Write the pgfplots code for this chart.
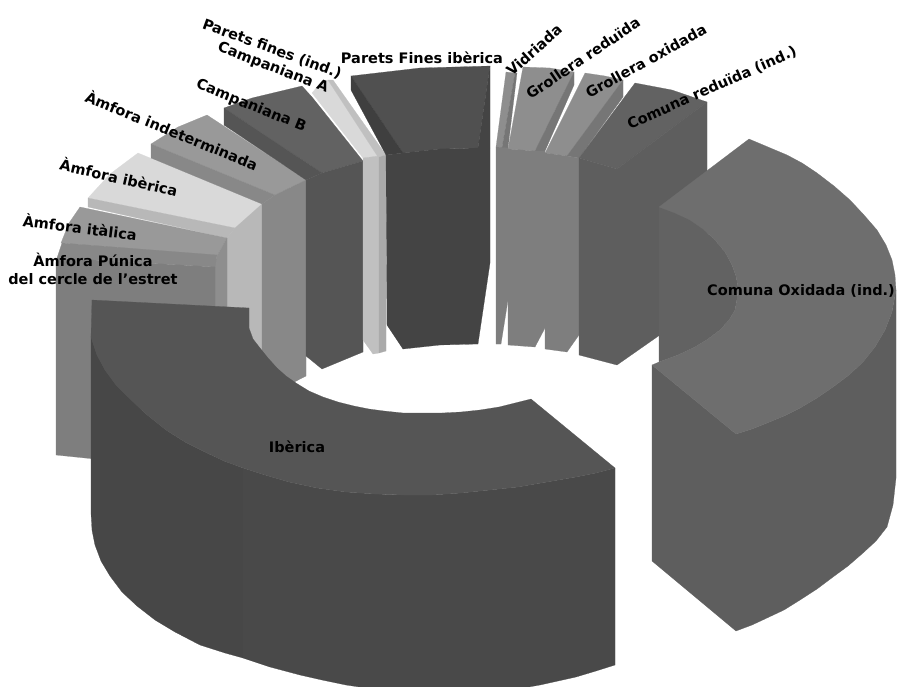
\documentclass[border=0pt]{standalone}
\usepackage{fontspec}
\setmainfont{DejaVu Sans}
\usepackage{pgfplots}
\pgfplotsset{compat=1.18}
\definecolor{g3f}{HTML}{3F3F3F}
\definecolor{g44}{HTML}{444444}
\definecolor{g47}{HTML}{474747}
\definecolor{g49}{HTML}{494949}
\definecolor{g50}{HTML}{505050}
\definecolor{g55}{HTML}{555555}
\definecolor{g5e}{HTML}{5E5E5E}
\definecolor{g62}{HTML}{626262}
\definecolor{g6e}{HTML}{6E6E6E}
\definecolor{g76}{HTML}{767676}
\definecolor{g7e}{HTML}{7E7E7E}
\definecolor{g88}{HTML}{888888}
\definecolor{g8e}{HTML}{8E8E8E}
\definecolor{g99}{HTML}{999999}
\definecolor{gaa}{HTML}{AAAAAA}
\definecolor{gb8}{HTML}{B8B8B8}
\definecolor{gc0}{HTML}{C0C0C0}
\definecolor{gd9}{HTML}{D9D9D9}
\newcommand{\piece}[2]{\addplot[fill=#1,draw=#1,line width=0.2pt] coordinates {#2} -- cycle;}
\newcommand{\lab}[4]{\node[font=\fontsize{14.5}{18}\selectfont\bfseries,align=center,rotate=#3,inner sep=0pt] at (axis cs:#1,#2) {#4};}
\begin{document}
\begin{tikzpicture}
\begin{axis}[
    scale only axis,
    width=897pt,
    height=686pt,
    xmin=0, xmax=897,
    ymin=0, ymax=686,
    y dir=reverse,
    hide axis,
]
\path (axis cs:0,0) rectangle (axis cs:897,686);
% Amfora iberica
\piece{gd9}{(88,198) (110,174) (138,153) (262,204) (235,228)}
\piece{gb8}{(88,198) (235,228) (227,238) (88,207)}
\piece{gb8}{(227,238) (235,228) (262,204) (262,370) (227,340)}
% Amfora italica
\piece{g99}{(80,207) (69,223) (61,243) (217,256) (227,238)}
\piece{g8e}{(214,267) (217,256) (227,238) (227,330) (214,330)}
% Amfora punica
\piece{g88}{(62,243) (217,255) (215,267) (57,258)}
\piece{g7e}{(57,258) (215,267) (215,330) (95,459) (56,455) (56,262)}
% Amfora indeterminada
\piece{g99}{(151,144) (178,127) (207,115) (306,180) (275,195)}
\piece{g88}{(151,144) (275,195) (262,204) (151,158)}
\piece{g88}{(262,204) (275,195) (306,180) (306,376) (275,392) (262,392)}
% Campaniana B
\piece{g62}{(224,108) (252,98) (302,86) (312,97) (363,161) (322,173)}
\piece{g55}{(224,108) (322,173) (306,180) (224,125)}
\piece{g55}{(306,180) (322,173) (363,161) (363,352) (322,369) (306,356)}
% Campaniana A
\piece{gd9}{(312,93) (322,81) (328,80) (378,157) (363,158)}
\piece{gc0}{(363,158) (379,156) (379,353) (373,354) (363,340)}
% Parets fines (ind.)
\piece{gc0}{(328,80) (333,80) (386,155) (378,157)}
\piece{gaa}{(379,157) (386,155) (386,351) (379,353)}
% Parets fines iberica
\piece{g50}{(351,76) (420,68) (490,66) (478,148) (440,149) (403,153)}
\piece{g3f}{(351,76) (403,153) (386,155) (351,90)}
\piece{g44}{(478,148) (490,66) (490,148)}
\piece{g44}{(386,155) (403,153) (440,149) (478,148) (490,148) (490,263) (478,344) (440,345) (403,349) (387,325)}
% Vidriada
\piece{g8e}{(506,72) (515,73) (502,148) (496,147)}
\piece{g76}{(515,73) (517,73) (508,148) (502,148)}
\piece{g7e}{(496,147) (508,148) (508,300) (501,344) (496,344)}
% Grollera reduida
\piece{g8e}{(523,67) (550,68) (574,72) (535,151) (508,149)}
\piece{g76}{(574,72) (574,85) (545,151) (535,151)}
\piece{g7e}{(508,149) (535,151) (545,151) (545,328) (535,347) (508,345)}
% Grollera oxidada
\piece{g8e}{(585,73) (605,76) (623,80) (567,156) (545,153)}
\piece{g76}{(623,80) (623,97) (579,158) (567,156)}
\piece{g7e}{(545,153) (567,156) (579,158) (579,335) (567,352) (545,349)}
% Comuna reduida
\piece{g62}{(635,83) (672,90) (707,102) (617,169) (579,158)}
\piece{g5e}{(579,158) (617,169) (707,102) (707,302) (617,365) (579,355)}
% Comuna oxidada
\piece{g5e}{(652,365) (736,434) (752,429) (767,423) (784,416) (800,408) (817,398) (833,387) (849,375) (863,362) (875,347) (885,330) (892,312) (896,290) (896,478) (893,505) (887,527) (876,541) (863,553) (848,566) (833,577) (817,589) (800,600) (784,610) (767,618) (752,625) (736,631) (652,561)}
\piece{g62}{(659,207) (675,213) (690,220) (703,229) (715,240) (725,252) (732,265) (736,276) (738,287) (737,299) (735,310) (729,320) (720,330) (708,339) (695,347) (678,355) (659,362)}
\piece{g6e}{(659,207) (749,139) (768,147) (787,155) (802,163) (817,173) (834,186) (850,200) (864,215) (877,230) (886,245) (892,260) (895,275) (896,290) (892,312) (885,330) (875,347) (863,362) (849,375) (833,387) (817,398) (800,408) (784,416) (767,423) (752,429) (736,434) (652,365) (659,362) (678,355) (695,347) (708,339) (720,330) (729,320) (735,310) (737,299) (738,287) (736,276) (732,265) (725,252) (715,240) (703,229) (690,220) (675,213)}
% Iberica
\piece{g47}{(91,337) (97,355) (105,370) (116,385) (128,397) (146,414) (166,430) (185,442) (205,452) (224,461) (243,468) (243,658) (225,653) (200,645) (175,632) (155,620) (137,606) (122,592) (110,576) (101,561) (95,545) (92,530) (91,513)}
\piece{g49}{(243,468) (265,475) (289,482) (317,488) (346,492) (375,494) (404,495) (432,495) (461,493) (490,490) (518,487) (547,482) (576,477) (596,473) (615,468) (615,665) (596,671) (576,677) (540,685) (500,692) (420,692) (380,690) (346,685) (322,680) (300,675) (270,667) (243,658)}
\piece{g55}{(92,300) (249,308) (249,328) (253,339) (260,348) (268,358) (277,368) (286,376) (296,383) (309,391) (323,397) (338,402) (354,406) (369,409) (384,411) (403,413) (423,413) (442,413) (461,412) (480,410) (499,407) (515,403) (531,399) (615,468) (596,473) (576,477) (547,482) (518,487) (490,490) (461,493) (432,495) (404,495) (375,494) (346,492) (317,488) (289,482) (265,475) (243,468) (224,461) (205,452) (185,442) (166,430) (146,414) (128,397) (116,385) (105,370) (97,355) (91,337)}
% labels
\lab{272}{49}{-20}{Parets fines (ind.)}
\lab{273}{68}{-21}{Campaniana A}
\lab{251}{106}{-22}{Campaniana B}
\lab{172}{130}{-22}{Àmfora indeterminada}
\lab{119}{177}{-13}{Àmfora ibèrica}
\lab{80}{227}{-7}{Àmfora itàlica}
\lab{93}{269}{0}{Àmfora Púnica\\del cercle de l’estret}
\lab{422}{58}{0}{Parets Fines ibèrica}
\lab{534}{50}{42}{Vidriada}
\lab{583}{58}{34}{Grollera reduïda}
\lab{646}{61}{29}{Grollera oxidada}
\lab{712}{88}{24}{Comuna reduïda (ind.)}
\lab{801}{291}{0}{Comuna Oxidada (ind.)}
\lab{297}{447}{0}{Ibèrica}
\end{axis}
\end{tikzpicture}
\end{document}
